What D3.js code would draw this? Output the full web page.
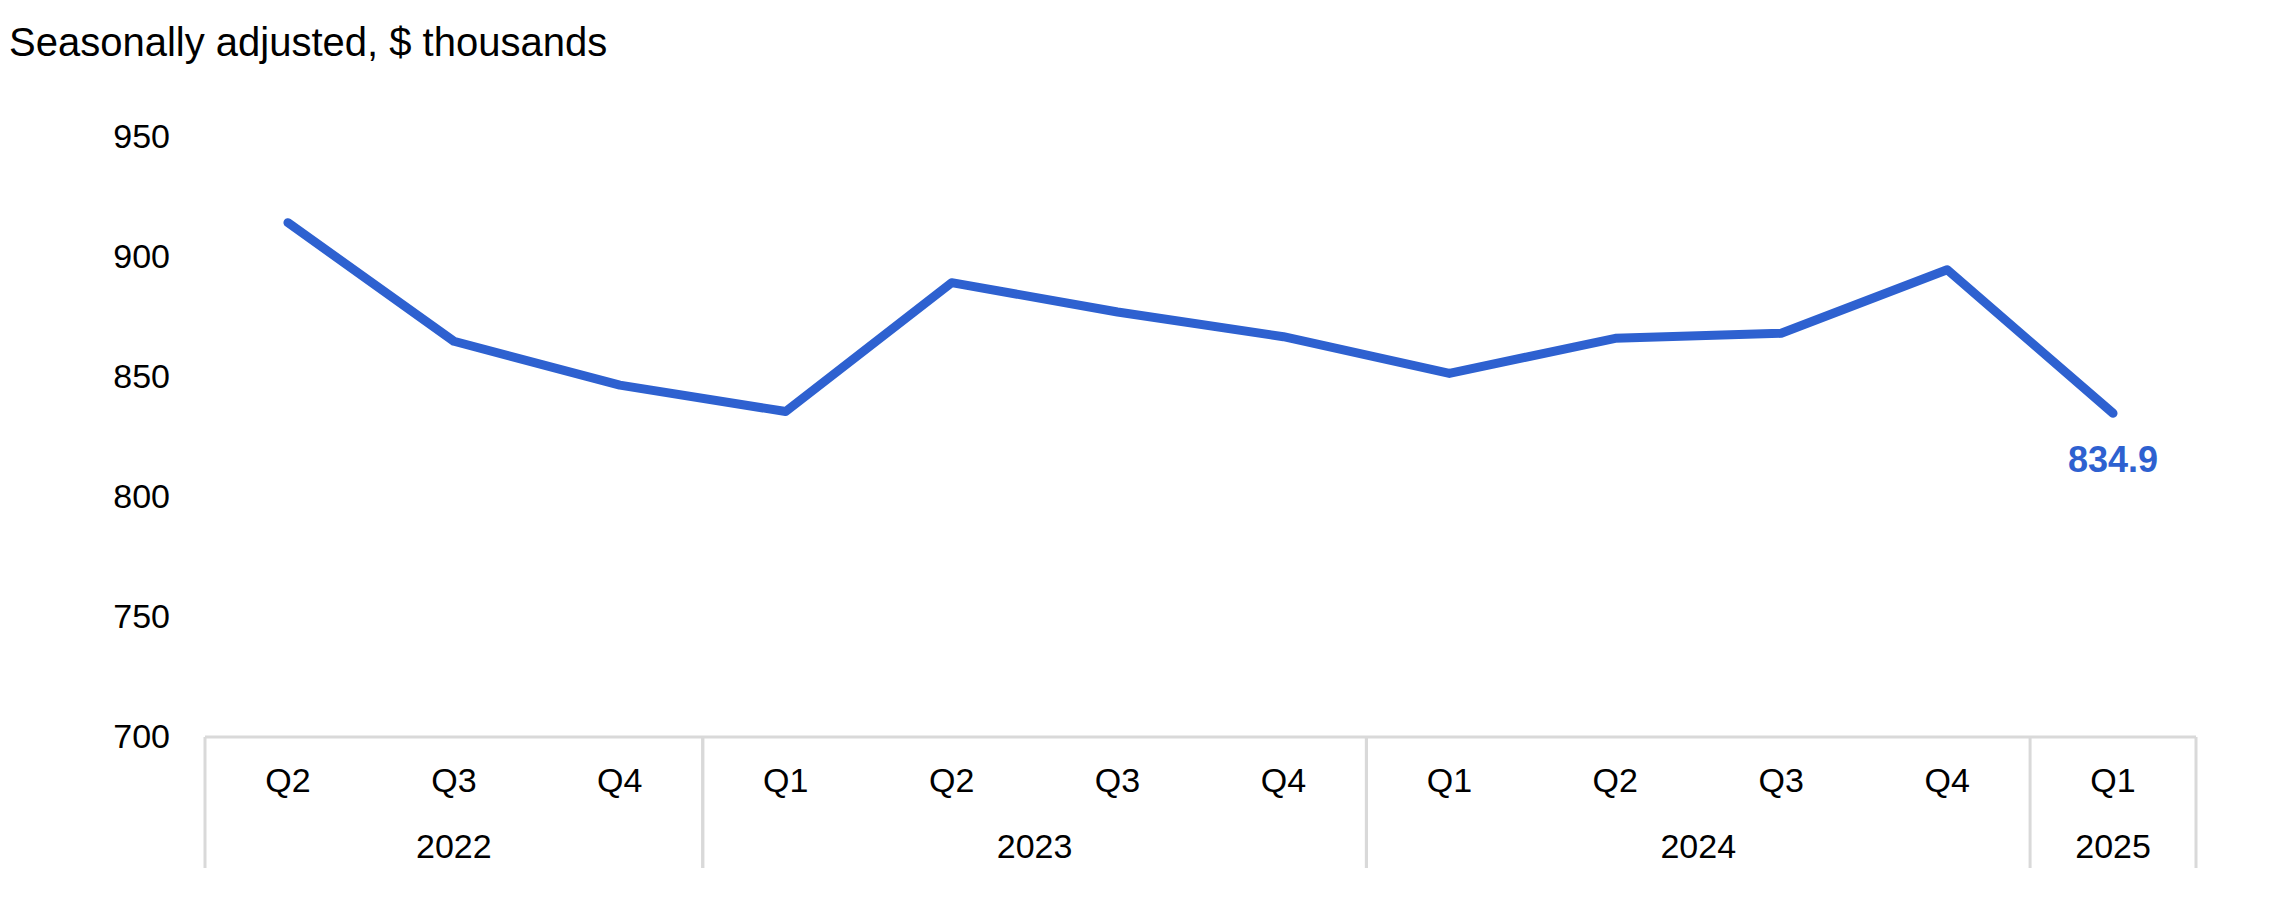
<!DOCTYPE html>
<html>
<head>
<meta charset="utf-8">
<script src="https://cdn.jsdelivr.net/npm/d3@7"></script>
<style>
  html, body { margin: 0; padding: 0; background: #ffffff; }
  svg { display: block; font-family: "Liberation Sans", Arial, Helvetica, sans-serif; }
</style>
</head>
<body>
<svg id="chart" width="2296" height="923"></svg>
<script>
// ---- data ----
const quarters = ["Q2","Q3","Q4","Q1","Q2","Q3","Q4","Q1","Q2","Q3","Q4","Q1"];
const quarterYears = ["2022","2022","2022","2023","2023","2023","2023","2024","2024","2024","2024","2025"];
const values = [914.3, 864.9, 846.6, 835.6, 889.3, 877.1, 866.8, 851.5, 866.1, 868.2, 894.7, 834.9];
const yTicks = [700, 750, 800, 850, 900, 950];
const titleText = "Seasonally adjusted, $ thousands";
const lastLabel = "834.9";

(function () {
// ---- layout ----
const svg = d3.select("#chart");
const mLeft = 205, mRight = 2196, mTop = 137, mBottom = 737;
const lineColor = "#2e61d0";
const gridGrey = "#d9d9d9";

const ids = quarters.map((q, i) => i);
const x = d3.scaleBand().domain(ids).range([mLeft, mRight]).paddingInner(0).paddingOuter(0);
const y = d3.scaleLinear().domain([700, 950]).range([mBottom, mTop]);

// title
svg.append("text")
  .attr("x", 9).attr("y", 56)
  .attr("font-size", 40).attr("fill", "#000")
  .text(titleText);

// y axis
const yAxis = svg.append("g")
  .attr("transform", `translate(${mLeft},0)`)
  .call(d3.axisLeft(y).tickValues(yTicks).tickSize(0).tickPadding(35).tickFormat(d3.format("d")));
yAxis.select(".domain").remove();
yAxis.selectAll("text").attr("font-size", 34).attr("fill", "#000")
  .attr("font-family", "Liberation Sans, Arial, sans-serif");

// x axis baseline
svg.append("line")
  .attr("x1", mLeft).attr("x2", mRight)
  .attr("y1", mBottom).attr("y2", mBottom)
  .attr("stroke", gridGrey).attr("stroke-width", 3);

// quarter labels
const xAxis = svg.append("g")
  .attr("transform", `translate(0,${mBottom})`)
  .call(d3.axisBottom(x).tickSize(0).tickFormat(i => quarters[i]));
xAxis.select(".domain").remove();
xAxis.selectAll("text")
  .attr("y", 43).attr("dy", "0.35em")
  .attr("font-size", 34).attr("fill", "#000")
  .attr("font-family", "Liberation Sans, Arial, sans-serif");

// year groups
const groups = d3.groups(ids, i => quarterYears[i]);
const bounds = [];
groups.forEach(([yr, idx]) => {
  const x0 = x(idx[0]);
  const x1 = x(idx[idx.length - 1]) + x.bandwidth();
  bounds.push(x0, x1);
  svg.append("text")
    .attr("x", (x0 + x1) / 2).attr("y", 846).attr("dy", "0.35em")
    .attr("text-anchor", "middle")
    .attr("font-size", 34).attr("fill", "#000")
    .text(yr);
});
Array.from(new Set(bounds)).forEach(bx => {
  svg.append("line")
    .attr("x1", bx).attr("x2", bx)
    .attr("y1", mBottom).attr("y2", 868)
    .attr("stroke", gridGrey).attr("stroke-width", 3);
});

// line
const line = d3.line()
  .x((d, i) => x(i) + x.bandwidth() / 2)
  .y(d => y(d));
svg.append("path")
  .datum(values)
  .attr("d", line)
  .attr("fill", "none")
  .attr("stroke", lineColor)
  .attr("stroke-width", 9)
  .attr("stroke-linejoin", "round")
  .attr("stroke-linecap", "round");

// last value label
const li = values.length - 1;
svg.append("text")
  .attr("x", x(li) + x.bandwidth() / 2)
  .attr("y", y(values[li]) + 46).attr("dy", "0.35em")
  .attr("text-anchor", "middle")
  .attr("font-size", 36).attr("font-weight", "bold")
  .attr("fill", lineColor)
  .text(lastLabel);
})();
</script>
</body>
</html>
